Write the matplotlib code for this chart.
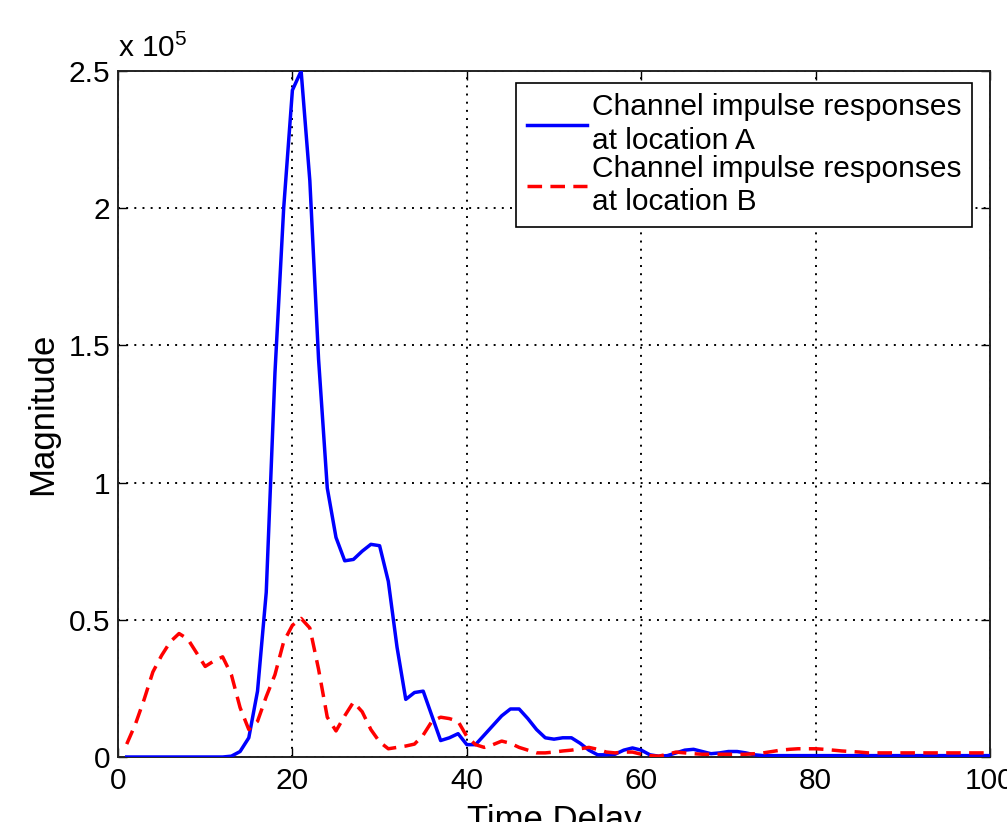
import numpy as np
import matplotlib
matplotlib.use("Agg")
import matplotlib.pyplot as plt
from matplotlib.ticker import FuncFormatter

# -----------------------------
# Data (magnitudes)
# -----------------------------
time_delay = np.arange(1, 101)

mag_a = np.array([
    0, 0, 0, 0, 0, 0, 0, 0, 0, 0,                                   # 1-10
    0, 0, 300, 2000, 7000, 24000, 60000, 140000, 200000, 243000,    # 11-20
    250000, 210000, 145000, 98000, 80000, 71500, 72000, 75000, 77500, 77000,  # 21-30
    64000, 40000, 21000, 23500, 24000, 15000, 6000, 7000, 8500, 4500,  # 31-40
    4500, 8000, 11500, 15000, 17500, 17500, 14000, 10000, 7000, 6500,  # 41-50
    7000, 7000, 5000, 2500, 800, 800, 1000, 2500, 3300, 2500,        # 51-60
    800, 300, 500, 1500, 2500, 2800, 2000, 1200, 1500, 2000,         # 61-70
    2000, 1500, 800, 500, 500, 500, 500, 500, 500, 500,              # 71-80
    500, 500, 500, 500, 500, 500, 500, 500, 500, 500,                # 81-90
    500, 500, 500, 500, 500, 500, 500, 500, 500, 500,                # 91-100
])

mag_b = np.array([
    4700, 12000, 21000, 31000, 37000, 42000, 45000, 43000, 38000, 33000,  # 1-10
    35000, 36500, 30000, 18000, 10000, 13000, 22000, 30000, 42000, 48000,  # 11-20
    50500, 47000, 32000, 14500, 9500, 15000, 20000, 16500, 10000, 5500,   # 21-30
    3000, 3500, 4000, 4700, 8000, 13000, 14500, 14000, 13000, 7500,       # 31-40
    4500, 3500, 4500, 5800, 5000, 3500, 2500, 1500, 1500, 1800,           # 41-50
    2200, 2500, 3000, 3500, 2800, 1800, 1500, 1800, 1800, 1000,           # 51-60
    500, 300, 1000, 1800, 1500, 1200, 1000, 1000, 1000, 1000,             # 61-70
    1000, 1000, 1200, 1500, 2000, 2500, 2800, 3000, 3000, 3000,           # 71-80
    2800, 2500, 2200, 2000, 1800, 1500, 1500, 1500, 1500, 1500,           # 81-90
    1500, 1500, 1500, 1500, 1500, 1500, 1500, 1500, 1500, 1500,           # 91-100
])

label_a = "Channel impulse responses\nat location A"
label_b = "Channel impulse responses\nat location B"

x_ticks = [0, 20, 40, 60, 80, 100]
y_ticks = [0, 50000, 100000, 150000, 200000, 250000]

# -----------------------------
# Style
# -----------------------------
plt.rcParams["font.family"] = ["Liberation Sans", "DejaVu Sans"]
plt.rcParams["mathtext.fontset"] = "custom"
plt.rcParams["mathtext.rm"] = "Liberation Sans"

fig = plt.figure(figsize=(10.07, 8.22), dpi=100)
ax = fig.add_axes([118 / 1007, 65 / 822, 872 / 1007, 686 / 822])

ax.plot(time_delay, mag_a, color="#0000ff", lw=2.5, label=label_a, zorder=3)
ax.plot(time_delay, mag_b, color="#ff0000", lw=2.5, dashes=(4.2, 2.4),
        label=label_b, zorder=3)

ax.set_xlim(0, 100)
ax.set_ylim(0, 250000)
ax.set_xticks(x_ticks)
ax.set_yticks(y_ticks)
ax.yaxis.set_major_formatter(FuncFormatter(lambda v, p: "%g" % (v / 1e5)))

ax.grid(True, color="black", linestyle=(0, (1, 3.2)), linewidth=1.4)
ax.tick_params(direction="in", length=6.5, width=1.0, top=True, right=True,
               labelsize=21.5, colors="black")
ax.tick_params(axis="x", pad=7.5)
ax.tick_params(axis="y", pad=5.5)
for s in ax.spines.values():
    s.set_linewidth(1.4)
    s.set_color("#222222")

ax.set_xlabel("Time Delay", fontsize=25, labelpad=6)
ax.set_ylabel("Magnitude", fontsize=25, labelpad=7)

ax.text(0, 1.012, r"x 10$^{\mathregular{5}}$", transform=ax.transAxes,
        ha="left", va="bottom", fontsize=21.5)

leg = ax.legend(loc="upper right", bbox_to_anchor=(0.979, 0.9825),
                borderaxespad=0, fancybox=False, framealpha=1,
                edgecolor="black", fontsize=21.5, handlelength=2.0,
                handletextpad=0.17, borderpad=0.35, labelspacing=0.0)
leg.get_frame().set_linewidth(1.2)
for t in leg.get_texts():
    t.set_linespacing(1.25)

fig.savefig("out.png", dpi=100)
